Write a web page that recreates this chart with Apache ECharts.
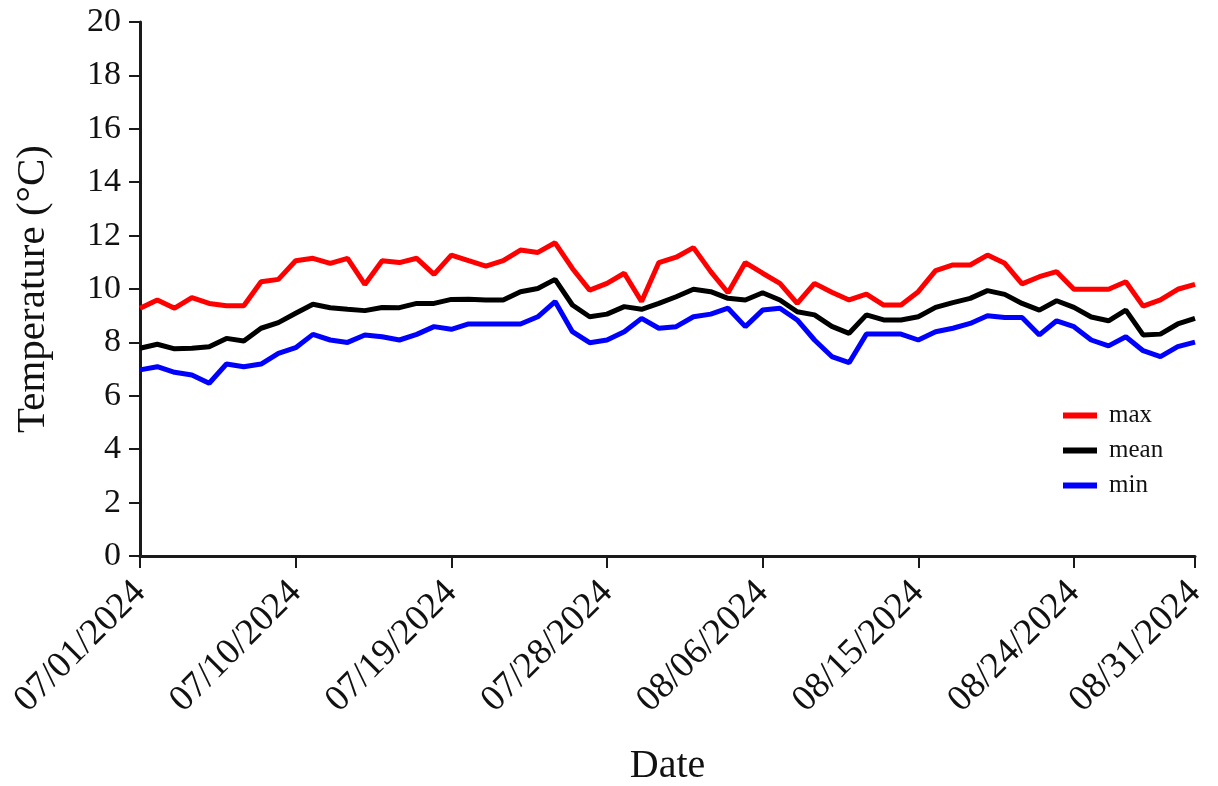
<!DOCTYPE html>
<html>
<head>
<meta charset="utf-8">
<title>Daily temperature, July–August 2024</title>
<script src="https://cdn.jsdelivr.net/npm/echarts@6/dist/echarts.min.js"></script>
<style>
  html, body { margin: 0; padding: 0; background: #ffffff; }
  #chart { width: 1218px; height: 786px; }
</style>
</head>
<body>
<div id="chart"></div>
<script>
// Daily air temperature (°C), 1 July – 31 August 2024
const tMax = [
  9.28, 9.59, 9.28, 9.68, 9.46, 9.37, 9.37, 10.27, 10.36, 11.06,
  11.15, 10.96, 11.15, 10.17, 11.06, 10.99, 11.15, 10.55, 11.27, 11.06,
  10.86, 11.06, 11.46, 11.37, 11.73, 10.77, 9.96, 10.21, 10.59, 9.53,
  10.99, 11.19, 11.55, 10.65, 9.86, 10.99, 10.59, 10.21, 9.46, 10.21,
  9.88, 9.59, 9.81, 9.40, 9.40, 9.90, 10.69, 10.90, 10.90, 11.27,
  10.96, 10.19, 10.46, 10.65, 9.99, 9.99, 9.99, 10.27, 9.36, 9.59,
  9.99, 10.17
];
const tMean = [
  7.78, 7.93, 7.76, 7.78, 7.84, 8.15, 8.05, 8.53, 8.74, 9.09,
  9.43, 9.30, 9.24, 9.19, 9.31, 9.30, 9.46, 9.46, 9.61, 9.62,
  9.59, 9.59, 9.90, 10.02, 10.36, 9.40, 8.96, 9.06, 9.34, 9.24,
  9.46, 9.71, 9.99, 9.90, 9.65, 9.59, 9.86, 9.59, 9.15, 9.03,
  8.60, 8.34, 9.03, 8.84, 8.84, 8.96, 9.31, 9.49, 9.65, 9.94,
  9.80, 9.46, 9.21, 9.56, 9.31, 8.95, 8.81, 9.21, 8.28, 8.31,
  8.69, 8.90
];
const tMin = [
  6.97, 7.09, 6.88, 6.78, 6.47, 7.19, 7.09, 7.19, 7.59, 7.80,
  8.30, 8.09, 8.00, 8.28, 8.21, 8.09, 8.30, 8.59, 8.49, 8.69,
  8.69, 8.69, 8.69, 8.96, 9.53, 8.40, 7.99, 8.09, 8.40, 8.90,
  8.53, 8.59, 8.96, 9.06, 9.28, 8.59, 9.21, 9.28, 8.84, 8.09,
  7.47, 7.24, 8.31, 8.31, 8.31, 8.09, 8.40, 8.53, 8.71, 9.00,
  8.93, 8.93, 8.28, 8.81, 8.59, 8.09, 7.87, 8.21, 7.69, 7.47,
  7.84, 8.01
];

// Dates labelled on the x axis
const dateTicks = [
  '07/01/2024', '07/10/2024', '07/19/2024', '07/28/2024',
  '08/06/2024', '08/15/2024', '08/24/2024', '08/31/2024'
];
// Values labelled on the y axis
const tempTicks = [0, 2, 4, 6, 8, 10, 12, 14, 16, 18, 20];

// One category per day, formatted MM/DD/YYYY
const dates = [];
for (let d = new Date(2024, 6, 1); d <= new Date(2024, 7, 31); d.setDate(d.getDate() + 1)) {
  const mm = String(d.getMonth() + 1).padStart(2, '0');
  const dd = String(d.getDate()).padStart(2, '0');
  dates.push(mm + '/' + dd + '/' + d.getFullYear());
}

const FONT = '"Liberation Serif", "Times New Roman", serif';
const AXIS_COLOR = '#1a1a1a';
const showTick = (i, v) => dateTicks.indexOf(v !== undefined ? v : dates[i]) !== -1;

const chart = echarts.init(document.getElementById('chart'), null, { renderer: 'canvas' });

chart.setOption({
  backgroundColor: '#ffffff',
  animation: false,
  textStyle: { fontFamily: FONT },
  grid: {
    left: 140, right: 23, top: 22, bottom: 230,
    containLabel: false,
    outerBoundsMode: 'none'
  },
  legend: {
    orient: 'vertical',
    left: 1058,
    top: 398,
    itemWidth: 34,
    itemHeight: 6,
    itemGap: 10,
    icon: 'rect',
    textStyle: { fontFamily: FONT, fontSize: 25, color: '#111', padding: [0, 0, 0, 7] },
    data: ['max', 'mean', 'min']
  },
  xAxis: {
    type: 'category',
    data: dates,
    boundaryGap: false,
    name: 'Date',
    nameLocation: 'middle',
    nameGap: 190,
    nameTextStyle: { fontFamily: FONT, fontSize: 40, color: '#111' },
    axisLine: { show: true, lineStyle: { color: AXIS_COLOR, width: 3 } },
    axisTick: {
      show: true,
      interval: (i, v) => showTick(i, v),
      length: 12,
      lineStyle: { color: AXIS_COLOR, width: 2 }
    },
    axisLabel: {
      interval: (i, v) => showTick(i, v),
      rotate: 45,
      margin: 31,
      fontFamily: FONT,
      fontSize: 37,
      color: '#111'
    },
    splitLine: { show: false }
  },
  yAxis: {
    type: 'value',
    min: tempTicks[0],
    max: tempTicks[tempTicks.length - 1],
    interval: tempTicks[1] - tempTicks[0],
    name: 'Temperature (°C)',
    nameLocation: 'middle',
    nameGap: 86,
    nameTextStyle: { fontFamily: FONT, fontSize: 41, color: '#111' },
    axisLine: { show: true, lineStyle: { color: AXIS_COLOR, width: 3 } },
    axisTick: { show: true, length: 11, lineStyle: { color: AXIS_COLOR, width: 2 } },
    axisLabel: { margin: 19, fontFamily: FONT, fontSize: 34, color: '#111' },
    splitLine: { show: false }
  },
  series: [
    {
      name: 'max', type: 'line', data: tMax, showSymbol: false, symbol: 'none',
      lineStyle: { color: '#ff0000', width: 5 }, itemStyle: { color: '#ff0000' }
    },
    {
      name: 'mean', type: 'line', data: tMean, showSymbol: false, symbol: 'none',
      lineStyle: { color: '#000000', width: 5 }, itemStyle: { color: '#000000' }
    },
    {
      name: 'min', type: 'line', data: tMin, showSymbol: false, symbol: 'none',
      lineStyle: { color: '#0000ff', width: 5 }, itemStyle: { color: '#0000ff' }
    }
  ]
});
</script>
</body>
</html>
